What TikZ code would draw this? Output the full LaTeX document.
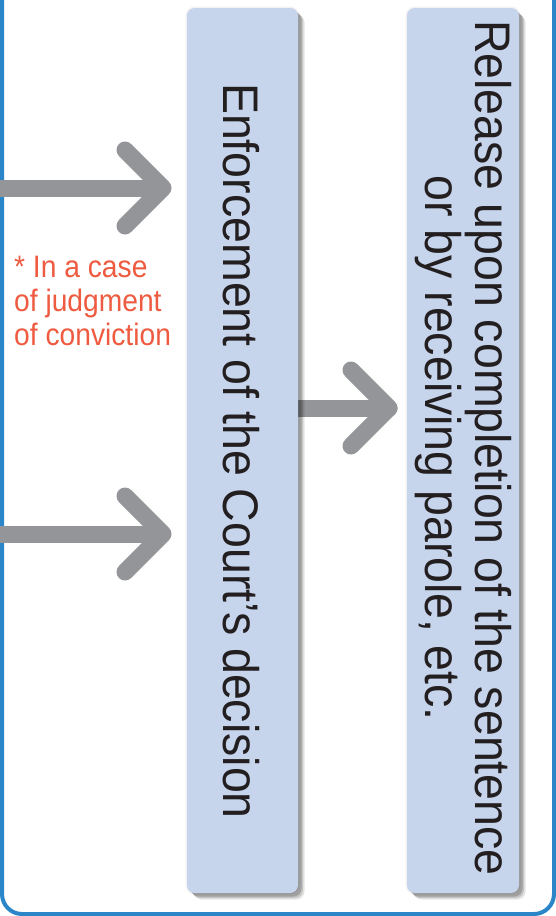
\documentclass[tikz,border=0pt]{standalone}
\usepackage{fontspec}
\setmainfont{Liberation Sans}
\newfontfamily\boxfont[FakeStretch=0.93]{Liberation Sans}
\newfontfamily\notefont[FakeStretch=0.91]{Liberation Sans}
\definecolor{boxblue}{HTML}{C6D4EC}
\definecolor{framec}{HTML}{2B86C9}
\definecolor{arrowgray}{HTML}{939598}
\definecolor{textdark}{HTML}{231F20}
\definecolor{notered}{HTML}{EE5B40}
\pgfdeclarelayer{background}
\pgfsetlayers{background,main}
\begin{document}
\begin{tikzpicture}[x=1pt,y=-1pt,
  boxshadow/.style={
    preaction={fill=black,opacity=0.05,draw=black,line width=3pt},
    preaction={fill=black,opacity=0.10,transform canvas={shift={(6.5pt,-6.5pt)}}},
    preaction={fill=black,opacity=0.14,transform canvas={shift={(5pt,-5pt)}}},
    preaction={fill=black,opacity=0.18,transform canvas={shift={(3.5pt,-3.5pt)}}}},
  box/.style={boxshadow, fill=boxblue, rounded corners=8pt, minimum width=111pt,
    minimum height=885pt, inner sep=0pt},
  boxtext/.style={rotate=-90, font=\boxfont\fontsize{50}{50}\selectfont,
    text=textdark, inner sep=0pt},
  arr/.style={draw=arrowgray, line width=17pt, line cap=round, line join=round},
  note/.style={font=\notefont\fontsize{31}{34}\selectfont, text=notered,
    align=left, inner sep=0pt}
]
\useasboundingbox (0,0) rectangle (556,916);

% boxes
\node[box] (b1) at (242.5,450.5) {};
\node[box, minimum width=112pt] (b2) at (463,450.5) {};

% texts
\node[boxtext, anchor=base] (t1) at (223,451) {Enforcement of the Court’s decision};
\node[boxtext, align=center] (t2) at (463,448)
  {Release upon completion of the sentence\\or by receiving parole, etc.};
\node[note, anchor=base west] (n1) at (14,345) {* In a case\\of judgment\\of conviction};

% arrows
\coordinate (a1s) at (0,188);
\coordinate (a1t) at (163,188);
\coordinate (a1u) at (125,150);
\coordinate (a1l) at (125,226);
\coordinate (a2s) at (0,534);
\coordinate (a2t) at (163,534);
\coordinate (a2u) at (125,496);
\coordinate (a2l) at (125,572);
\coordinate (a3t) at (389,408);
\coordinate (a3u) at (351,370);
\coordinate (a3l) at (351,446);
\begin{pgfonlayer}{background}
  \fill[white] (0,0) rectangle (556,916);
  % frame
  \draw[framec, line width=4pt, rounded corners=20pt]
    (2,0) -- (2,914) -- (554,914) -- (554,0);
  \draw[arr, line cap=butt] (a1s) -- (a1t);
  \draw[arr] (a1u) -- (a1t) -- (a1l);
  \draw[arr, line cap=butt] (a2s) -- (a2t);
  \draw[arr] (a2u) -- (a2t) -- (a2l);
  \draw[arr] (b1.east |- a3t) -- (a3t);
  \draw[arr] (a3u) -- (a3t) -- (a3l);
\end{pgfonlayer}
\end{tikzpicture}
\end{document}
